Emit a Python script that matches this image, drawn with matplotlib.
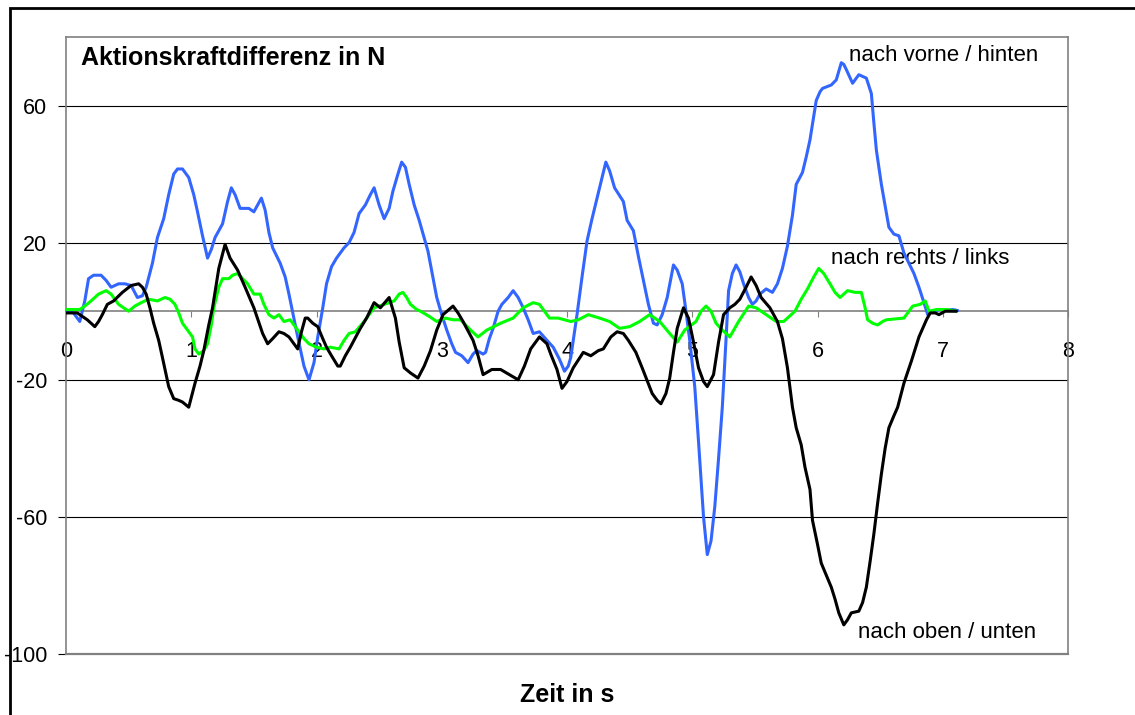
import matplotlib
matplotlib.use("Agg")
import matplotlib.pyplot as plt
from matplotlib.patches import Rectangle

plt.rcParams['font.family'] = ['Liberation Sans', 'DejaVu Sans']
plt.rcParams['axes.unicode_minus'] = False

# nach vorne / hinten (blue)
vh_t = [0.00, 0.06, 0.11, 0.15, 0.18, 0.22, 0.28, 0.32, 0.36, 0.42, 0.47, 0.52, 0.57, 0.61, 0.64,
        0.69, 0.73, 0.78, 0.82, 0.86, 0.89, 0.93, 0.98, 1.02, 1.05, 1.09, 1.13, 1.16, 1.19, 1.25,
        1.29, 1.32, 1.35, 1.39, 1.46, 1.50, 1.53, 1.56, 1.59, 1.62, 1.65, 1.71, 1.75, 1.78, 1.85,
        1.90, 1.94, 1.98, 2.01, 2.05, 2.08, 2.12, 2.16, 2.22, 2.26, 2.30, 2.34, 2.39, 2.43, 2.46,
        2.50, 2.54, 2.58, 2.61, 2.65, 2.68, 2.71, 2.74, 2.78, 2.82, 2.89, 2.96, 3.00, 3.04, 3.08,
        3.11, 3.16, 3.21, 3.25, 3.28, 3.33, 3.35, 3.38, 3.41, 3.45, 3.48, 3.53, 3.57, 3.61, 3.65,
        3.69, 3.73, 3.78, 3.84, 3.89, 3.94, 3.98, 4.01, 4.03, 4.08, 4.12, 4.16, 4.20, 4.24, 4.28,
        4.31, 4.34, 4.38, 4.45, 4.48, 4.53, 4.57, 4.61, 4.65, 4.69, 4.72, 4.76, 4.80, 4.85, 4.88,
        4.92, 4.95, 4.98, 5.02, 5.05, 5.09, 5.12, 5.15, 5.18, 5.21, 5.24, 5.27, 5.29, 5.32, 5.35,
        5.38, 5.41, 5.45, 5.48, 5.51, 5.54, 5.59, 5.64, 5.68, 5.72, 5.76, 5.80, 5.83, 5.88, 5.91,
        5.94, 5.97, 5.99, 6.02, 6.04, 6.11, 6.15, 6.19, 6.21, 6.23, 6.28, 6.30, 6.33, 6.39, 6.43,
        6.45, 6.47, 6.51, 6.57, 6.61, 6.65, 6.69, 6.73, 6.77, 6.81, 6.85, 6.88, 6.92, 6.98, 7.03,
        7.08, 7.12]
vh_f = [0, -0.5, -3, 3, 9.5, 10.5, 10.5, 9, 7, 8, 8, 7.5, 4, 4.5, 7,
        14, 21.5, 27, 34, 40, 41.5, 41.5, 39, 34, 29, 22, 15.5, 18, 21.5, 25.5,
        32, 36, 34, 30, 30, 29, 31, 33, 29.5, 23, 18.5, 14, 10, 5, -7.5,
        -16, -20, -15, -7.5, 1, 8, 13, 15.5, 18.5, 20, 23, 28.5, 31, 34, 36,
        31, 27, 30, 35, 40, 43.5, 42, 37, 31, 26.5, 17.5, 4, -1, -5.5, -9.5,
        -12, -13, -15, -12.5, -11.5, -12.5, -12, -8, -5, 0, 2, 4, 6, 4, 1,
        -2.5, -6.5, -6, -8.5, -10.5, -14, -17.5, -16, -13.5, -1, 10, 20.5, 27, 33, 39,
        43.5, 41, 36, 32, 26.5, 23.5, 16, 9, 2, -3.5, -4, -1, 4, 13.5, 12,
        8, 0, -8.5, -22, -38, -60, -71, -67, -57, -43, -28, -8, 6, 11, 13.5,
        11.5, 8, 4, 2, 3, 5, 6.5, 5.5, 8, 12.5, 19, 28, 37, 40.5, 45,
        50, 57, 61.5, 64, 65, 66, 67.5, 72.5, 72, 70.5, 66.5, 67.5, 69, 68, 63.5,
        55, 47, 37, 24.5, 22.5, 22, 17, 14, 11, 7, 2.5, -1, 0, 0.5, 0.3,
        0.5, 0.2]

# nach rechts / links (green)
rl_t = [0.00, 0.11, 0.15, 0.20, 0.26, 0.32, 0.36, 0.42, 0.46, 0.50, 0.55, 0.60, 0.66, 0.73, 0.79,
        0.83, 0.87, 0.90, 0.93, 0.97, 1.01, 1.03, 1.06, 1.10, 1.13, 1.16, 1.18, 1.22, 1.25, 1.30,
        1.33, 1.37, 1.41, 1.45, 1.50, 1.55, 1.58, 1.62, 1.66, 1.70, 1.74, 1.79, 1.83, 1.86, 1.90,
        1.94, 2.00, 2.06, 2.11, 2.18, 2.22, 2.26, 2.31, 2.38, 2.46, 2.54, 2.62, 2.66, 2.69, 2.72,
        2.75, 2.80, 2.83, 2.90, 2.96, 3.03, 3.09, 3.15, 3.19, 3.23, 3.29, 3.36, 3.47, 3.57, 3.65,
        3.73, 3.78, 3.82, 3.86, 3.93, 4.03, 4.09, 4.17, 4.26, 4.34, 4.42, 4.50, 4.58, 4.66, 4.74,
        4.82, 4.88, 4.94, 5.03, 5.07, 5.11, 5.15, 5.19, 5.24, 5.30, 5.37, 5.45, 5.51, 5.59, 5.67,
        5.73, 5.82, 5.87, 5.92, 5.97, 6.01, 6.05, 6.10, 6.14, 6.18, 6.24, 6.30, 6.35, 6.38, 6.40,
        6.44, 6.48, 6.52, 6.55, 6.69, 6.73, 6.76, 6.82, 6.86, 6.89, 6.95, 7.03, 7.11]
rl_f = [0.5, 0.5, 1.5, 3, 5, 6, 5, 2, 1, 0, 1.5, 2.5, 3.5, 3, 4,
        3.5, 2, -0.5, -3.5, -5.5, -7.5, -11, -12.5, -11.5, -9.5, -4, 1, 7, 9.5, 9.5,
        10.5, 11, 9.5, 8, 5, 5, 2, -1, -2, -1, -3, -2.5, -4.5, -6, -8,
        -9.5, -10.5, -11, -10.5, -11, -8.5, -6.5, -6, -3, 1, 2, 3, 5, 5.5, 4,
        2, 0.5, 0, -1.5, -3, -2, -2.5, -2.5, -4, -5.5, -7.5, -5.5, -3.5, -2, 1,
        2.5, 2, 0, -2, -2, -3, -2.5, -1, -2, -3, -5, -4.5, -3, -1, -3,
        -6.5, -9, -5.5, -3, 0, 1.5, 0, -3.5, -5.5, -7.5, -3, 1.5, 1, -1, -3,
        -3, 0, 3.5, 6.5, 10, 12.5, 11, 8, 5.5, 4, 6, 5.5, 5.5, 1, -2.5,
        -3.5, -4, -3, -2.5, -2, 0, 1.5, 2, 3, 0, 0.5, 0.5, 0]

# nach oben / unten (black)
ou_t = [0.00, 0.09, 0.17, 0.23, 0.26, 0.29, 0.33, 0.38, 0.45, 0.52, 0.58, 0.61, 0.64, 0.67, 0.70,
        0.74, 0.77, 0.82, 0.86, 0.90, 0.93, 0.98, 1.03, 1.07, 1.10, 1.14, 1.17, 1.22, 1.27, 1.31,
        1.37, 1.43, 1.50, 1.57, 1.61, 1.65, 1.70, 1.74, 1.78, 1.85, 1.88, 1.91, 1.93, 1.97, 2.01,
        2.05, 2.08, 2.12, 2.17, 2.19, 2.23, 2.27, 2.35, 2.40, 2.46, 2.51, 2.58, 2.63, 2.66, 2.70,
        2.75, 2.81, 2.86, 2.91, 2.96, 3.01, 3.09, 3.13, 3.17, 3.25, 3.29, 3.33, 3.40, 3.47, 3.54,
        3.61, 3.66, 3.71, 3.78, 3.84, 3.87, 3.92, 3.96, 4.00, 4.05, 4.13, 4.19, 4.25, 4.29, 4.35,
        4.40, 4.45, 4.49, 4.55, 4.60, 4.68, 4.72, 4.75, 4.79, 4.82, 4.85, 4.88, 4.93, 4.97, 5.01,
        5.05, 5.09, 5.12, 5.17, 5.21, 5.25, 5.30, 5.34, 5.38, 5.43, 5.47, 5.51, 5.55, 5.62, 5.68,
        5.72, 5.76, 5.80, 5.83, 5.87, 5.90, 5.94, 5.96, 6.00, 6.03, 6.07, 6.11, 6.14, 6.17, 6.21,
        6.24, 6.27, 6.33, 6.36, 6.39, 6.42, 6.45, 6.48, 6.51, 6.54, 6.57, 6.61, 6.64, 6.69, 6.75,
        6.81, 6.84, 6.87, 6.90, 6.94, 6.97, 7.02, 7.11]
ou_f = [-0.5, -0.5, -2.5, -4.5, -3, -1, 2, 3, 5.5, 7.5, 8, 7, 5, 1, -3.5,
        -8.5, -13.5, -22, -25.5, -26, -26.5, -28, -21, -16, -11.5, -4, 1, 12.5, 19.5, 15.5,
        12, 7, 1, -6.5, -9.5, -8, -6, -6.5, -7.5, -11, -6, -2, -2, -3.5, -4.5,
        -8, -10.5, -13, -16, -16, -13, -10.5, -5, -2, 2.5, 1, 4, -2, -9, -16.5,
        -18, -19.5, -16, -11.5, -5.5, -1, 1.5, -0.5, -3, -8.5, -13, -18.5, -17, -17, -18.5,
        -20, -16, -11, -7.5, -9.5, -12.5, -17, -22.5, -20.5, -16.5, -12, -13, -11.5, -11, -7.5,
        -6, -6.5, -8.5, -12, -16.5, -24, -26, -27, -24, -19.5, -12, -5, 1, -2, -9,
        -16.5, -20.5, -22, -18.5, -9, -1, 1, 2, 3.5, 7, 10, 7.5, 4, 1, -3,
        -8, -16.5, -28, -34, -39, -45.5, -52, -61, -68, -73.5, -77, -80.5, -84, -88, -91.5,
        -90, -88, -87.5, -85, -80.5, -73, -65, -56, -47.5, -40, -34, -30.5, -28, -21, -14.5,
        -7.5, -5, -2.5, -0.5, -0.5, -1, 0, 0]

x_ticks = [0, 1, 2, 3, 4, 5, 6, 7, 8]
y_ticks = [-100, -60, -20, 20, 60]

W, H = 1135, 715
fig = plt.figure(figsize=(W / 100, H / 100), dpi=100)
ax = fig.add_axes([66 / W, 1 - 654 / H, (1068 - 66) / W, (654 - 37) / H])

grey = '#808080'
for s in ['left', 'right', 'top']:
    ax.spines[s].set_color(grey)
    ax.spines[s].set_linewidth(1.2)
ax.spines['bottom'].set_position(('data', 0))
ax.spines['bottom'].set_color(grey)
ax.spines['bottom'].set_linewidth(1.2)
ax.axhline(-100, color=grey, lw=1.6, clip_on=False, zorder=3)

for g in y_ticks[1:]:
    ax.axhline(g, color='black', lw=0.8, zorder=1)

kw = dict(lw=2.2, solid_joinstyle='round', solid_capstyle='round')
ax.plot(vh_t, vh_f, color='#3366ff', zorder=4, **kw)
ax.plot(rl_t, rl_f, color='#00ff00', zorder=5, **kw)
ax.plot(ou_t, ou_f, color='black', zorder=6, **kw)

ax.set_xlim(0, 8)
ax.set_ylim(-100, 80)
ax.set_xticks(x_ticks)
ax.set_yticks(y_ticks)
ax.tick_params(axis='x', direction='out', length=4.5, color=grey, labelsize=15.5, pad=17)
ax.tick_params(axis='y', direction='out', length=5.5, color='black', labelsize=15.5, pad=8)

ax.text(0.12, 74, 'Aktionskraftdifferenz in N', fontsize=18, fontweight='bold', ha='left', va='center')
ax.text(6.25, 74.7, 'nach vorne / hinten', fontsize=16, ha='left', va='center')
ax.text(6.11, 15.4, 'nach rechts / links', fontsize=16, ha='left', va='center')
ax.text(6.32, -93.7, 'nach oben / unten', fontsize=16, ha='left', va='center')

fig.text(567 / W, 1 - 695 / H, 'Zeit in s', fontsize=18, fontweight='bold', ha='center', va='center')

fig.add_artist(Rectangle((9.5 / W, -0.1), 1.2, 1.1 - 8.2 / H, transform=fig.transFigure,
                         fill=False, lw=2, ec='black', zorder=10))

fig.savefig('out.png', dpi=100)
